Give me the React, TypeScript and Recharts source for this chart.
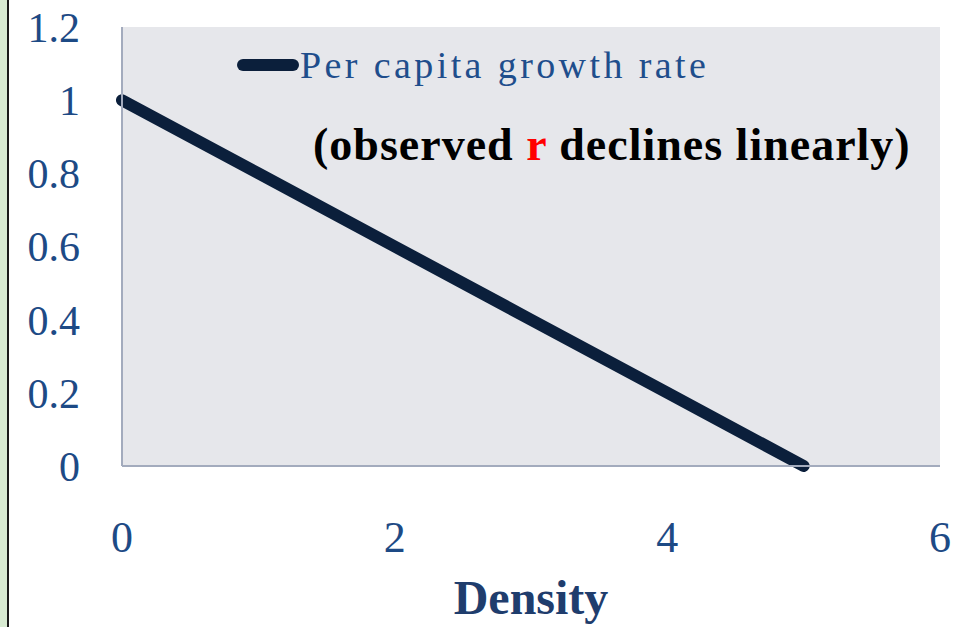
import React from 'react';
import { LineChart, Line, XAxis, YAxis, Legend } from 'recharts';

const densities = [0, 1, 2, 3, 4, 5];
const growthRates = [1, 0.8, 0.6, 0.4, 0.2, 0];
const xTicks = [0, 2, 4, 6];
const yTicks = [0, 0.2, 0.4, 0.6, 0.8, 1, 1.2];

const data = densities.map((d, i) => ({ density: d, rate: growthRates[i] }));

const SERIF = '"Liberation Serif", "DejaVu Serif", serif';
const TICK_COLOR = '#1d4a85';
const LINE_COLOR = '#0b1f3b';

const LegendBox = () => (
  <div style={{ fontFamily: SERIF, position: 'relative', width: 700, height: 130 }}>
    <div style={{ display: 'flex', alignItems: 'center', height: 36 }}>
      <span style={{ display: 'inline-block', width: 62, height: 12, borderRadius: 6, background: LINE_COLOR }} />
      <span style={{ fontSize: 38, color: '#1f4e8c', marginLeft: 1, letterSpacing: 3.4, whiteSpace: 'nowrap' }}>Per capita growth rate</span>
    </div>
    <div style={{ position: 'absolute', left: 76, top: 71, fontSize: 46, fontWeight: 'bold', color: '#000', whiteSpace: 'nowrap', letterSpacing: 1 }}>
      (observed <span style={{ color: '#ff0000' }}>r</span> declines linearly)
    </div>
  </div>
);

export default function App() {
  return (
    <div style={{ position: 'absolute', left: 0, top: 0, width: 959, height: 627, background: '#fff' }}>
      <div style={{ position: 'absolute', left: 0, top: 0, width: 7, height: 627, background: '#d8ebd2' }} />
      <div style={{ position: 'absolute', left: 7, top: 0, width: 1.5, height: 627, background: '#1a1a1a' }} />
      <LineChart width={959} height={627} data={data} margin={{ top: 27, right: 19, bottom: 0, left: 0 }}>
        <rect x={122} y={27} width={818} height={439} fill="#e6e7eb" />
        <XAxis
          dataKey="density"
          type="number"
          domain={[0, 6]}
          ticks={xTicks}
          interval={0}
          height={161}
          tickLine={false}
          axisLine={{ stroke: '#a3abbd', strokeWidth: 2 }}
          tickSize={0}
          tickMargin={55}
          tick={{ fontSize: 44, fill: TICK_COLOR, fontFamily: SERIF }}
          label={{ value: 'Density', position: 'insideBottom', offset: 13, style: { fontSize: 48, fontWeight: 'bold', fill: '#1f3d6d', fontFamily: SERIF } }}
        />
        <YAxis
          type="number"
          domain={[0, 1.2]}
          ticks={yTicks}
          interval={0}
          width={122}
          tickLine={false}
          axisLine={{ stroke: '#a3abbd', strokeWidth: 2 }}
          tickSize={0}
          tickMargin={42}
          tick={{ fontSize: 42, fill: TICK_COLOR, fontFamily: SERIF }}
        />
        <Legend
          layout="horizontal"
          verticalAlign="middle"
          align="center"
          wrapperStyle={{ top: 47, left: 237, width: 700 }}
          content={() => <LegendBox />}
        />
        <Line
          type="linear"
          dataKey="rate"
          stroke={LINE_COLOR}
          strokeWidth={12}
          strokeLinecap="round"
          dot={false}
          activeDot={false}
          isAnimationActive={false}
        />
      </LineChart>
    </div>
  );
}
